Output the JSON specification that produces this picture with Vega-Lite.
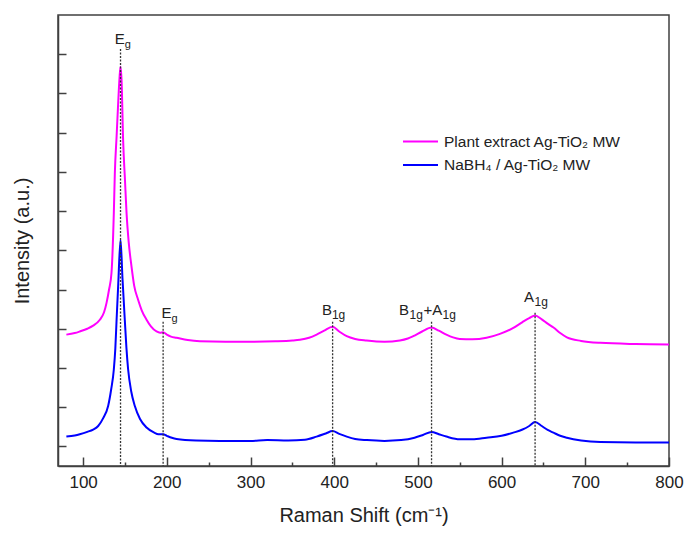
{
  "$schema": "https://vega.github.io/schema/vega-lite/v6.json",
  "width": 611,
  "height": 451,
  "autosize": "none",
  "padding": {"left": 58, "top": 15, "right": 18, "bottom": 68},
  "background": "white",
  "config": {
    "view": {"stroke": "#404040", "strokeWidth": 1.5},
    "font": "Liberation Sans",
    "axis": {"labelFont": "Liberation Sans", "titleFont": "Liberation Sans", "titleFontWeight": "normal", "domainColor": "#404040", "domainWidth": 1.5, "tickColor": "#404040", "tickWidth": 1.5, "grid": false, "labelColor": "#222", "titleColor": "#222"}
  },
  "datasets": {
    "spectra": [
      {"sample": "plant", "shift": 80, "intensity": 2.85},
      {"sample": "plant", "shift": 90, "intensity": 2.89},
      {"sample": "plant", "shift": 96, "intensity": 2.93},
      {"sample": "plant", "shift": 105, "intensity": 3.0},
      {"sample": "plant", "shift": 112, "intensity": 3.08},
      {"sample": "plant", "shift": 120, "intensity": 3.23},
      {"sample": "plant", "shift": 125, "intensity": 3.42},
      {"sample": "plant", "shift": 128, "intensity": 3.66},
      {"sample": "plant", "shift": 131, "intensity": 4.0},
      {"sample": "plant", "shift": 133.9, "intensity": 4.42},
      {"sample": "plant", "shift": 136.7, "intensity": 5.95},
      {"sample": "plant", "shift": 137.9, "intensity": 6.96},
      {"sample": "plant", "shift": 140, "intensity": 7.9},
      {"sample": "plant", "shift": 142, "intensity": 8.8},
      {"sample": "plant", "shift": 143.5, "intensity": 9.4},
      {"sample": "plant", "shift": 144.7, "intensity": 9.68},
      {"sample": "plant", "shift": 146, "intensity": 9.3},
      {"sample": "plant", "shift": 147.8, "intensity": 7.81},
      {"sample": "plant", "shift": 150, "intensity": 6.8},
      {"sample": "plant", "shift": 151.9, "intensity": 5.95},
      {"sample": "plant", "shift": 154.5, "intensity": 5.2},
      {"sample": "plant", "shift": 157.8, "intensity": 4.59},
      {"sample": "plant", "shift": 161, "intensity": 4.1},
      {"sample": "plant", "shift": 165.7, "intensity": 3.74},
      {"sample": "plant", "shift": 170, "intensity": 3.47},
      {"sample": "plant", "shift": 175.8, "intensity": 3.23},
      {"sample": "plant", "shift": 181, "intensity": 3.06},
      {"sample": "plant", "shift": 187.7, "intensity": 2.93},
      {"sample": "plant", "shift": 192, "intensity": 2.9},
      {"sample": "plant", "shift": 195.6, "intensity": 2.91},
      {"sample": "plant", "shift": 200, "intensity": 2.85},
      {"sample": "plant", "shift": 205, "intensity": 2.8},
      {"sample": "plant", "shift": 211.6, "intensity": 2.77},
      {"sample": "plant", "shift": 225, "intensity": 2.71},
      {"sample": "plant", "shift": 239.5, "intensity": 2.68},
      {"sample": "plant", "shift": 270, "intensity": 2.67},
      {"sample": "plant", "shift": 300, "intensity": 2.67},
      {"sample": "plant", "shift": 330, "intensity": 2.68},
      {"sample": "plant", "shift": 350, "intensity": 2.7},
      {"sample": "plant", "shift": 359, "intensity": 2.72},
      {"sample": "plant", "shift": 370, "intensity": 2.77},
      {"sample": "plant", "shift": 379, "intensity": 2.85},
      {"sample": "plant", "shift": 388, "intensity": 2.95},
      {"sample": "plant", "shift": 398, "intensity": 3.05},
      {"sample": "plant", "shift": 406, "intensity": 2.93},
      {"sample": "plant", "shift": 415, "intensity": 2.81},
      {"sample": "plant", "shift": 425, "intensity": 2.74},
      {"sample": "plant", "shift": 438.7, "intensity": 2.7},
      {"sample": "plant", "shift": 460, "intensity": 2.67},
      {"sample": "plant", "shift": 478.5, "intensity": 2.7},
      {"sample": "plant", "shift": 488, "intensity": 2.75},
      {"sample": "plant", "shift": 494.4, "intensity": 2.81},
      {"sample": "plant", "shift": 505, "intensity": 2.93},
      {"sample": "plant", "shift": 516.3, "intensity": 3.03},
      {"sample": "plant", "shift": 525, "intensity": 2.95},
      {"sample": "plant", "shift": 534, "intensity": 2.85},
      {"sample": "plant", "shift": 542, "intensity": 2.78},
      {"sample": "plant", "shift": 550, "intensity": 2.74},
      {"sample": "plant", "shift": 565, "intensity": 2.73},
      {"sample": "plant", "shift": 582, "intensity": 2.77},
      {"sample": "plant", "shift": 598, "intensity": 2.87},
      {"sample": "plant", "shift": 614, "intensity": 3.02},
      {"sample": "plant", "shift": 625, "intensity": 3.17},
      {"sample": "plant", "shift": 633, "intensity": 3.27},
      {"sample": "plant", "shift": 640, "intensity": 3.34},
      {"sample": "plant", "shift": 648, "intensity": 3.24},
      {"sample": "plant", "shift": 655, "intensity": 3.13},
      {"sample": "plant", "shift": 662, "intensity": 3.03},
      {"sample": "plant", "shift": 670, "intensity": 2.89},
      {"sample": "plant", "shift": 678, "intensity": 2.78},
      {"sample": "plant", "shift": 695, "intensity": 2.69},
      {"sample": "plant", "shift": 718, "intensity": 2.64},
      {"sample": "plant", "shift": 760, "intensity": 2.61},
      {"sample": "plant", "shift": 800, "intensity": 2.6},
      {"sample": "nabh4", "shift": 80, "intensity": 0.25},
      {"sample": "nabh4", "shift": 90, "intensity": 0.28},
      {"sample": "nabh4", "shift": 96, "intensity": 0.31},
      {"sample": "nabh4", "shift": 105, "intensity": 0.37},
      {"sample": "nabh4", "shift": 112, "intensity": 0.43},
      {"sample": "nabh4", "shift": 118, "intensity": 0.52},
      {"sample": "nabh4", "shift": 124, "intensity": 0.72},
      {"sample": "nabh4", "shift": 129.9, "intensity": 1.03},
      {"sample": "nabh4", "shift": 133.5, "intensity": 1.45},
      {"sample": "nabh4", "shift": 136.7, "intensity": 1.96},
      {"sample": "nabh4", "shift": 138.5, "intensity": 2.5},
      {"sample": "nabh4", "shift": 140, "intensity": 3.23},
      {"sample": "nabh4", "shift": 142, "intensity": 4.15},
      {"sample": "nabh4", "shift": 144.7, "intensity": 5.27},
      {"sample": "nabh4", "shift": 147, "intensity": 4.3},
      {"sample": "nabh4", "shift": 149.8, "intensity": 3.23},
      {"sample": "nabh4", "shift": 151.8, "intensity": 2.5},
      {"sample": "nabh4", "shift": 153.8, "intensity": 1.96},
      {"sample": "nabh4", "shift": 157.5, "intensity": 1.4},
      {"sample": "nabh4", "shift": 161.8, "intensity": 1.03},
      {"sample": "nabh4", "shift": 168, "intensity": 0.7},
      {"sample": "nabh4", "shift": 175.8, "intensity": 0.48},
      {"sample": "nabh4", "shift": 185, "intensity": 0.35},
      {"sample": "nabh4", "shift": 190, "intensity": 0.31},
      {"sample": "nabh4", "shift": 195.6, "intensity": 0.31},
      {"sample": "nabh4", "shift": 200, "intensity": 0.27},
      {"sample": "nabh4", "shift": 206, "intensity": 0.22},
      {"sample": "nabh4", "shift": 211.6, "intensity": 0.19},
      {"sample": "nabh4", "shift": 235, "intensity": 0.15},
      {"sample": "nabh4", "shift": 263, "intensity": 0.14},
      {"sample": "nabh4", "shift": 300, "intensity": 0.14},
      {"sample": "nabh4", "shift": 320, "intensity": 0.16},
      {"sample": "nabh4", "shift": 345, "intensity": 0.15},
      {"sample": "nabh4", "shift": 365, "intensity": 0.17},
      {"sample": "nabh4", "shift": 379, "intensity": 0.25},
      {"sample": "nabh4", "shift": 390, "intensity": 0.33},
      {"sample": "nabh4", "shift": 398, "intensity": 0.39},
      {"sample": "nabh4", "shift": 406, "intensity": 0.32},
      {"sample": "nabh4", "shift": 415, "intensity": 0.25},
      {"sample": "nabh4", "shift": 425, "intensity": 0.19},
      {"sample": "nabh4", "shift": 439, "intensity": 0.16},
      {"sample": "nabh4", "shift": 460, "intensity": 0.14},
      {"sample": "nabh4", "shift": 480, "intensity": 0.16},
      {"sample": "nabh4", "shift": 496, "intensity": 0.22},
      {"sample": "nabh4", "shift": 506, "intensity": 0.29},
      {"sample": "nabh4", "shift": 516.3, "intensity": 0.37},
      {"sample": "nabh4", "shift": 525, "intensity": 0.31},
      {"sample": "nabh4", "shift": 534, "intensity": 0.25},
      {"sample": "nabh4", "shift": 550, "intensity": 0.18},
      {"sample": "nabh4", "shift": 565, "intensity": 0.18},
      {"sample": "nabh4", "shift": 582, "intensity": 0.22},
      {"sample": "nabh4", "shift": 600, "intensity": 0.27},
      {"sample": "nabh4", "shift": 614, "intensity": 0.35},
      {"sample": "nabh4", "shift": 625, "intensity": 0.43},
      {"sample": "nabh4", "shift": 633, "intensity": 0.52},
      {"sample": "nabh4", "shift": 640, "intensity": 0.62},
      {"sample": "nabh4", "shift": 648, "intensity": 0.52},
      {"sample": "nabh4", "shift": 655, "intensity": 0.42},
      {"sample": "nabh4", "shift": 662, "intensity": 0.35},
      {"sample": "nabh4", "shift": 670, "intensity": 0.27},
      {"sample": "nabh4", "shift": 678, "intensity": 0.22},
      {"sample": "nabh4", "shift": 695, "intensity": 0.15},
      {"sample": "nabh4", "shift": 718, "intensity": 0.11},
      {"sample": "nabh4", "shift": 760, "intensity": 0.1},
      {"sample": "nabh4", "shift": 800, "intensity": 0.1}
    ],
    "markers": [
      {"peak": 144.7, "top": 10.13},
      {"peak": 195.6, "top": 3.18},
      {"peak": 398.1, "top": 3.18},
      {"peak": 516.3, "top": 3.18},
      {"peak": 640, "top": 3.41}
    ]
  },
  "layer": [
    {
      "data": {"name": "spectra"},
      "mark": {"type": "line", "strokeWidth": 2, "interpolate": "monotone", "clip": true},
      "encoding": {
        "x": {
          "field": "shift", "type": "quantitative",
          "scale": {"domain": [70, 800], "nice": false, "zero": false},
          "axis": {
            "title": "Raman Shift (cm⁻¹)", "titleFontSize": 20, "titlePadding": 10,
            "values": [100, 150, 200, 250, 300, 350, 400, 450, 500, 550, 600, 650, 700, 750, 800],
            "labelExpr": "datum.value % 100 === 0 ? datum.label : ''",
            "tickSize": {"condition": {"test": "datum.value % 100 !== 0", "value": -4}, "value": -9},
            "labelFontSize": 17, "labelPadding": 17, "labelFlush": false, "labelOverlap": false
          }
        },
        "y": {
          "field": "intensity", "type": "quantitative",
          "scale": {"domain": [-0.5, 11], "nice": false, "zero": false},
          "axis": {
            "title": "Intensity (a.u.)", "titleFontSize": 20, "titlePadding": 25,
            "values": [0, 1, 2, 3, 4, 5, 6, 7, 8, 9, 10],
            "labels": false, "tickSize": -8
          }
        },
        "color": {
          "field": "sample", "type": "nominal",
          "scale": {"domain": ["plant", "nabh4"], "range": ["#FF00FF", "#0000FF"]},
          "legend": {
            "title": null, "orient": "none", "legendX": 349, "legendY": 113,
            "labelExpr": "datum.label === 'plant' ? 'Plant extract Ag-TiO₂ MW' : 'NaBH₄ / Ag-TiO₂ MW'",
            "symbolType": "M-1.4,0H1.4", "symbolSize": 625, "symbolStrokeWidth": 2,
            "labelFontSize": 15.5, "labelFont": "Liberation Sans", "labelColor": "#222", "labelOffset": 10,
            "labelLimit": 400, "rowPadding": 1.5
          }
        }
      }
    },
    {
      "data": {"name": "markers"},
      "mark": {"type": "rule", "color": "#333", "strokeWidth": 1.3, "strokeDash": [2, 1.5]},
      "encoding": {
        "x": {"field": "peak", "type": "quantitative"},
        "y": {"field": "top", "type": "quantitative"},
        "y2": {"datum": -0.5}
      }
    },
    {
      "data": {"values": [{"peak": 144.7, "ly": 10.27, "t": "E"}]},
      "mark": {"type": "text", "align": "right", "baseline": "alphabetic", "dx": 4.3, "fontSize": 15, "color": "#222"},
      "encoding": {"x": {"field": "peak", "type": "quantitative"}, "y": {"field": "ly", "type": "quantitative"}, "text": {"field": "t"}}
    },
    {
      "data": {"values": [{"peak": 144.7, "ly": 10.27, "t": "g"}]},
      "mark": {"type": "text", "align": "left", "baseline": "alphabetic", "dx": 4.3, "dy": 4, "fontSize": 11, "color": "#222"},
      "encoding": {"x": {"field": "peak", "type": "quantitative"}, "y": {"field": "ly", "type": "quantitative"}, "text": {"field": "t"}}
    },
    {
      "data": {"values": [{"peak": 195.6, "ly": 3.27, "t": "E"}]},
      "mark": {"type": "text", "align": "right", "baseline": "alphabetic", "dx": 8.4, "fontSize": 15, "color": "#222"},
      "encoding": {"x": {"field": "peak", "type": "quantitative"}, "y": {"field": "ly", "type": "quantitative"}, "text": {"field": "t"}}
    },
    {
      "data": {"values": [{"peak": 195.6, "ly": 3.27, "t": "g"}]},
      "mark": {"type": "text", "align": "left", "baseline": "alphabetic", "dx": 8.4, "dy": 4, "fontSize": 11, "color": "#222"},
      "encoding": {"x": {"field": "peak", "type": "quantitative"}, "y": {"field": "ly", "type": "quantitative"}, "text": {"field": "t"}}
    },
    {
      "data": {"values": [{"peak": 398.1, "ly": 3.36, "t": "B"}]},
      "mark": {"type": "text", "align": "right", "baseline": "alphabetic", "dx": -0.7, "fontSize": 15, "color": "#222"},
      "encoding": {"x": {"field": "peak", "type": "quantitative"}, "y": {"field": "ly", "type": "quantitative"}, "text": {"field": "t"}}
    },
    {
      "data": {"values": [{"peak": 398.1, "ly": 3.36, "t": "1g"}]},
      "mark": {"type": "text", "align": "left", "baseline": "alphabetic", "dx": -0.7, "dy": 4, "fontSize": 12, "color": "#222"},
      "encoding": {"x": {"field": "peak", "type": "quantitative"}, "y": {"field": "ly", "type": "quantitative"}, "text": {"field": "t"}}
    },
    {
      "data": {"values": [{"peak": 516.3, "ly": 3.36, "t": "B"}]},
      "mark": {"type": "text", "align": "right", "baseline": "alphabetic", "dx": -22.5, "fontSize": 15, "color": "#222"},
      "encoding": {"x": {"field": "peak", "type": "quantitative"}, "y": {"field": "ly", "type": "quantitative"}, "text": {"field": "t"}}
    },
    {
      "data": {"values": [{"peak": 516.3, "ly": 3.36, "t": "1g"}]},
      "mark": {"type": "text", "align": "left", "baseline": "alphabetic", "dx": -22, "dy": 4, "fontSize": 12, "color": "#222"},
      "encoding": {"x": {"field": "peak", "type": "quantitative"}, "y": {"field": "ly", "type": "quantitative"}, "text": {"field": "t"}}
    },
    {
      "data": {"values": [{"peak": 516.3, "ly": 3.36, "t": "+A"}]},
      "mark": {"type": "text", "align": "left", "baseline": "alphabetic", "dx": -8, "fontSize": 15, "color": "#222"},
      "encoding": {"x": {"field": "peak", "type": "quantitative"}, "y": {"field": "ly", "type": "quantitative"}, "text": {"field": "t"}}
    },
    {
      "data": {"values": [{"peak": 516.3, "ly": 3.36, "t": "1g"}]},
      "mark": {"type": "text", "align": "left", "baseline": "alphabetic", "dx": 11, "dy": 4, "fontSize": 12, "color": "#222"},
      "encoding": {"x": {"field": "peak", "type": "quantitative"}, "y": {"field": "ly", "type": "quantitative"}, "text": {"field": "t"}}
    },
    {
      "data": {"values": [{"peak": 640, "ly": 3.69, "t": "A"}]},
      "mark": {"type": "text", "align": "right", "baseline": "alphabetic", "dx": -1, "fontSize": 15, "color": "#222"},
      "encoding": {"x": {"field": "peak", "type": "quantitative"}, "y": {"field": "ly", "type": "quantitative"}, "text": {"field": "t"}}
    },
    {
      "data": {"values": [{"peak": 640, "ly": 3.69, "t": "1g"}]},
      "mark": {"type": "text", "align": "left", "baseline": "alphabetic", "dx": -0.5, "dy": 4, "fontSize": 12, "color": "#222"},
      "encoding": {"x": {"field": "peak", "type": "quantitative"}, "y": {"field": "ly", "type": "quantitative"}, "text": {"field": "t"}}
    }
  ]
}
